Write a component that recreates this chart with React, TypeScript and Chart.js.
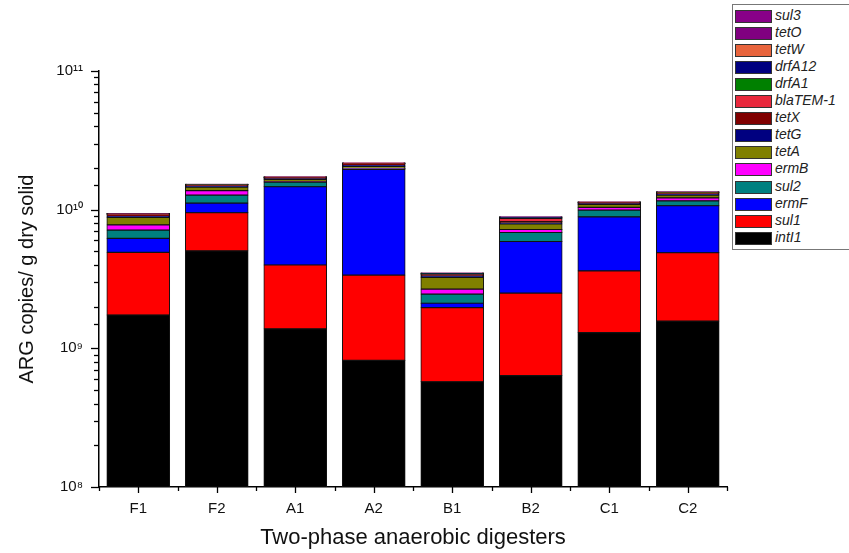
import React, { useEffect, useRef } from 'react';
import { Chart, registerables } from 'chart.js';

Chart.register(...registerables);

const categories = ['F1', 'F2', 'A1', 'A2', 'B1', 'B2', 'C1', 'C2'];
const yTickLabels = ['10\u2078', '10\u2079', '10\u00b9\u2070', '10\u00b9\u00b9'];

// gene copies / g dry solid, one value per digester (bottom to top of stack)
const intI1 = [1.74e9, 5.05e9, 1.38e9, 0.82e9, 0.574e9, 0.635e9, 1.3e9, 1.57e9];
const sul1 = [3.18e9, 4.45e9, 2.61e9, 2.55e9, 1.39e9, 1.87e9, 2.32e9, 3.32e9];
const ermF = [1.29e9, 1.66e9, 10.64e9, 16.15e9, 0.15e9, 3.39e9, 5.26e9, 5.78e9];
const sul2 = [0.92e9, 1.58e9, 1.18e9, 0.25e9, 0.35e9, 0.95e9, 1.05e9, 0.92e9];
const ermB = [0.65e9, 0.99e9, 0.05e9, 0.05e9, 0.21e9, 0.35e9, 0.46e9, 0.59e9];
const tetA = [1.02e9, 0.82e9, 0.68e9, 0.7e9, 0.57e9, 0.69e9, 0.53e9, 0.56e9];
const tetG = [0.18e9, 0.22e9, 0.22e9, 0.45e9, 0.08e9, 0.15e9, 0.15e9, 0.22e9];
const tetX = [0.2e9, 0.25e9, 0.24e9, 0.4e9, 0.08e9, 0.18e9, 0.15e9, 0.22e9];
const blaTEM1 = [0.06e9, 0.08e9, 0.08e9, 0.15e9, 0.03e9, 0.45e9, 0.06e9, 0.09e9];
const drfA1 = [0.04e9, 0.05e9, 0.05e9, 0.08e9, 0.02e9, 0.06e9, 0.04e9, 0.06e9];
const drfA12 = [0.04e9, 0.05e9, 0.05e9, 0.07e9, 0.02e9, 0.06e9, 0.03e9, 0.05e9];
const tetW = [0.04e9, 0.05e9, 0.05e9, 0.06e9, 0.01e9, 0.05e9, 0.03e9, 0.04e9];
const tetO = [0.02e9, 0.03e9, 0.02e9, 0.03e9, 0.01e9, 0.03e9, 0.01e9, 0.02e9];
const sul3 = [0.02e9, 0.02e9, 0.02e9, 0.02e9, 0.01e9, 0.03e9, 0.01e9, 0.02e9];

const series = [
  { name: 'intI1', data: intI1, color: '#000000' },
  { name: 'sul1', data: sul1, color: '#ff0000' },
  { name: 'ermF', data: ermF, color: '#0000ff' },
  { name: 'sul2', data: sul2, color: '#008080' },
  { name: 'ermB', data: ermB, color: '#ff00ff' },
  { name: 'tetA', data: tetA, color: '#808000' },
  { name: 'tetG', data: tetG, color: '#000080' },
  { name: 'tetX', data: tetX, color: '#800000' },
  { name: 'blaTEM-1', data: blaTEM1, color: '#e8283c' },
  { name: 'drfA1', data: drfA1, color: '#008000' },
  { name: 'drfA12', data: drfA12, color: '#000080' },
  { name: 'tetW', data: tetW, color: '#e8643c' },
  { name: 'tetO', data: tetO, color: '#800080' },
  { name: 'sul3', data: sul3, color: '#880088' },
];

const FONT = "'Liberation Sans', Arial, sans-serif";

const tickPlugin = {
  id: 'customTicks',
  afterDraw(chart: any) {
    const ctx = chart.ctx;
    const y = chart.scales.y;
    const x = chart.scales.x;
    const area = chart.chartArea;
    ctx.save();
    ctx.strokeStyle = '#000';
    ctx.lineWidth = 1.3;
    y.ticks.forEach((t: any) => {
      const l = Math.log10(t.value);
      const major = Math.abs(l - Math.round(l)) < 1e-6;
      const py = Math.round(y.getPixelForValue(t.value)) + 0.5;
      const len = major ? 8 : 5;
      ctx.beginPath();
      ctx.moveTo(area.left - len, py);
      ctx.lineTo(area.left, py);
      ctx.stroke();
    });
    const n = categories.length;
    const step = (area.right - area.left) / n;
    for (let i = 0; i < n; i++) {
      const px = Math.round(x.getPixelForValue(i)) + 0.5;
      ctx.beginPath();
      ctx.moveTo(px, area.bottom);
      ctx.lineTo(px, area.bottom + 6);
      ctx.stroke();
    }
    for (let i = 0; i <= n; i++) {
      const px = Math.round(area.left + i * step) + 0.5;
      ctx.beginPath();
      ctx.moveTo(px, area.bottom);
      ctx.lineTo(px, area.bottom + 4);
      ctx.stroke();
    }
    ctx.restore();
  },
};

export default function App() {
  const canvasRef = useRef<HTMLCanvasElement | null>(null);

  useEffect(() => {
    const canvas = canvasRef.current;
    if (!canvas) return;
    const chart = new Chart(canvas, {
      type: 'bar',
      data: {
        labels: categories,
        datasets: series.map((s) => ({
          label: s.name,
          data: s.data,
          backgroundColor: s.color,
          borderColor: '#111',
          borderWidth: 1,
          borderSkipped: false,
          inflateAmount: 0.4,
          barPercentage: 0.8,
          categoryPercentage: 1,
        })),
      },
      options: {
        animation: false,
        responsive: false,
        maintainAspectRatio: false,
        layout: { padding: { left: 0, top: 71, right: 122, bottom: 0 } },
        plugins: {
          legend: { display: false },
          tooltip: { enabled: false },
        },
        scales: {
          x: {
            stacked: true,
            grid: { display: false },
            border: { display: true, color: '#000', width: 1.5 },
            ticks: { color: '#111', font: { family: FONT, size: 15 }, padding: 5 },
            title: {
              display: true,
              text: 'Two-phase anaerobic digesters',
              color: '#111',
              font: { family: FONT, size: 22 },
              padding: { top: 0, bottom: 2 },
            },
            afterFit: (s: any) => {
              s.height = 66;
            },
          },
          y: {
            type: 'logarithmic',
            stacked: true,
            min: 1e8,
            max: 1e11,
            grid: { display: false },
            border: { display: true, color: '#000', width: 1.5 },
            ticks: {
              autoSkip: false,
              color: '#111',
              font: { family: FONT, size: 15 },
              padding: 8,
              callback: (value: any) => {
                const l = Math.log10(Number(value));
                const r = Math.round(l);
                if (Math.abs(l - r) < 1e-6) return yTickLabels[r - 8];
                return '';
              },
            },
            title: {
              display: true,
              text: 'ARG copies/ g dry solid',
              color: '#111',
              font: { family: FONT, size: 20 },
              padding: { top: 15, bottom: 0 },
            },
            afterFit: (s: any) => {
              s.width = 99;
            },
          },
        },
      },
      plugins: [tickPlugin],
    } as any);
    return () => chart.destroy();
  }, []);

  const legendItems = [...series].reverse();

  return (
    <div
      style={{
        position: 'absolute',
        left: 0,
        top: 0,
        width: 849,
        height: 553,
        overflow: 'hidden',
        background: '#fff',
      }}
    >
      <canvas
        ref={canvasRef}
        width={849}
        height={553}
        style={{ position: 'absolute', left: 0, top: 0, width: 849, height: 553 }}
      />
      <div
        style={{
          position: 'absolute',
          left: 732,
          top: 4,
          width: 130,
          height: 244,
          border: '1px solid #777',
          background: '#fff',
        }}
      >
        {legendItems.map((s, i) => (
          <div
            key={s.name}
            style={{
              position: 'absolute',
              left: 0,
              top: 4 + i * 17.05,
              height: 15,
              width: 128,
            }}
          >
            <div
              style={{
                position: 'absolute',
                left: 2,
                top: 1,
                width: 35,
                height: 11,
                background: s.color,
                border: '1px solid #333',
              }}
            />
            <span
              style={{
                position: 'absolute',
                left: 42,
                top: -1,
                fontFamily: FONT,
                fontStyle: 'italic',
                fontSize: 14,
                color: '#222',
                lineHeight: '15px',
                whiteSpace: 'nowrap',
              }}
            >
              {s.name}
            </span>
          </div>
        ))}
      </div>
    </div>
  );
}
